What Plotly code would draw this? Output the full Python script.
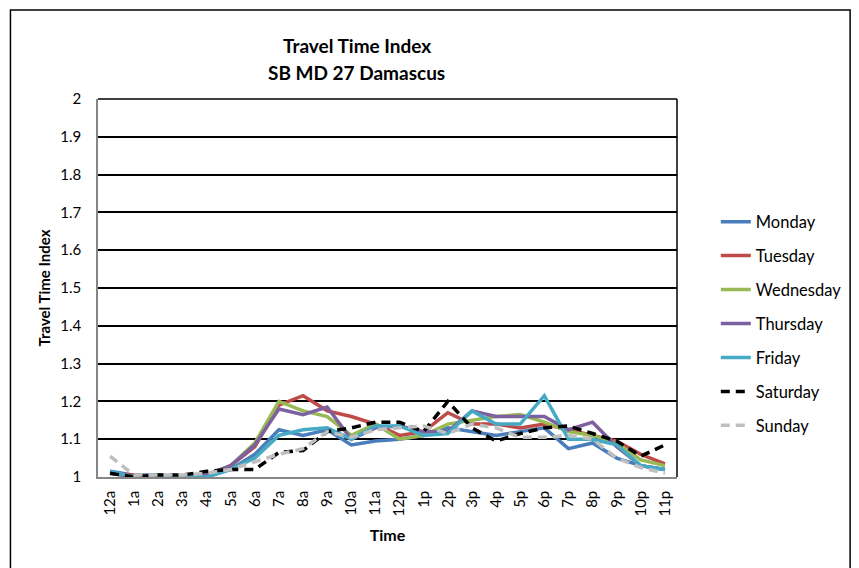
import plotly.graph_objects as go

times = ["12a","1a","2a","3a","4a","5a","6a","7a","8a","9a","10a","11a",
         "12p","1p","2p","3p","4p","5p","6p","7p","8p","9p","10p","11p"]

monday    = [1.015,1.005,1.005,1.0,1.0,1.02,1.06,1.125,1.11,1.125,1.085,1.095,
             1.10,1.11,1.13,1.12,1.11,1.12,1.13,1.075,1.09,1.05,1.03,1.02]
tuesday   = [1.01,1.005,1.0,1.0,1.005,1.03,1.08,1.19,1.215,1.175,1.16,1.14,
             1.11,1.12,1.17,1.14,1.14,1.13,1.14,1.125,1.11,1.095,1.06,1.035]
wednesday = [1.01,1.0,1.0,1.0,1.005,1.03,1.09,1.20,1.175,1.16,1.11,1.14,
             1.10,1.11,1.14,1.15,1.16,1.165,1.145,1.12,1.11,1.09,1.045,1.03]
thursday  = [1.01,1.0,1.0,1.0,1.005,1.03,1.085,1.18,1.165,1.185,1.10,1.13,
             1.135,1.12,1.12,1.175,1.16,1.16,1.16,1.125,1.145,1.08,1.03,1.02]
friday    = [1.015,1.0,1.0,1.0,1.0,1.02,1.05,1.11,1.125,1.13,1.10,1.135,
             1.135,1.11,1.115,1.175,1.14,1.14,1.215,1.10,1.10,1.085,1.03,1.02]
saturday  = [1.01,1.0,1.005,1.005,1.015,1.02,1.02,1.065,1.07,1.12,1.13,1.145,
             1.145,1.12,1.20,1.13,1.095,1.115,1.13,1.135,1.115,1.095,1.055,1.085]
sunday    = [1.055,1.005,1.005,1.005,1.01,1.02,1.04,1.06,1.075,1.12,1.105,1.125,
             1.13,1.135,1.115,1.14,1.13,1.105,1.105,1.11,1.10,1.05,1.025,1.01]

series_names = ["Monday","Tuesday","Wednesday","Thursday","Friday","Saturday","Sunday"]
series_vals = [monday, tuesday, wednesday, thursday, friday, saturday, sunday]
colors = ["#4A7EBB","#BE4B48","#98B954","#7D60A0","#46AAC5","#000000","#BFBFBF"]
dashes = ["solid","solid","solid","solid","solid","9px,6px","9px,6px"]
title_lines = ["Travel Time Index", "SB MD 27 Damascus"]

font = "Lato"
PW, PH = 582, 378

fig = go.Figure()
for name, vals, c, d in zip(series_names, series_vals, colors, dashes):
    fig.add_trace(go.Scatter(x=times, y=vals, mode="lines", name=name,
                             legendgroup=name,
                             line=dict(color=c, width=3.5, dash=d)))

annotations = []
for txt, ypx in zip(title_lines, [45, 72]):
    annotations.append(dict(text="<b>" + txt + "</b>", xref="paper", yref="paper",
                            x=(358 - 98) / PW, y=1 + (99 - ypx) / PH,
                            xanchor="center", yanchor="middle", showarrow=False,
                            font=dict(size=19, family=font)))

fig.update_layout(
    width=851, height=560,
    margin=dict(l=90, r=179, t=91, b=91),
    paper_bgcolor="white", plot_bgcolor="white",
    font=dict(family=font, color="#000000", size=14),
    showlegend=True,
    annotations=annotations,
    legend=dict(x=1 + 39 / PW, xanchor="left", y=0.405, yanchor="middle",
                font=dict(size=16.5, family=font),
                traceorder="grouped", tracegroupgap=9.5,
                bgcolor="rgba(0,0,0,0)"),
    xaxis=dict(type="category", tickangle=-90, showgrid=False,
               showline=True, linecolor="#868686", linewidth=1.5,
               ticks="", tickfont=dict(size=15), ticklabelstandoff=6,
               title=dict(text="<b>Time</b>", font=dict(size=16), standoff=14),
               range=[-0.5, 23.5]),
    yaxis=dict(range=[1, 2], dtick=0.1, tickformat="~g",
               showgrid=True, gridcolor="#000000", gridwidth=1.5,
               showline=True, linecolor="#868686", linewidth=1.5,
               zeroline=False, ticks="", tickfont=dict(size=15), ticklabelstandoff=12,
               title=dict(text="<b>Travel Time Index</b>", font=dict(size=15), standoff=6)),
    shapes=[
        dict(type="line", xref="paper", yref="paper", x0=1, x1=1, y0=0, y1=1,
             line=dict(color="#000000", width=1.5)),
        dict(type="line", xref="paper", yref="paper", x0=0, x1=1, y0=1, y1=1,
             line=dict(color="#000000", width=1.5)),
        dict(type="rect", xref="paper", yref="paper",
             x0=-88 / PW, x1=1 + 174 / PW, y0=-100 / PH, y1=1 + 89 / PH,
             line=dict(color="#000000", width=1.5), fillcolor="rgba(0,0,0,0)"),
    ],
)

fig.write_html("out.html")
